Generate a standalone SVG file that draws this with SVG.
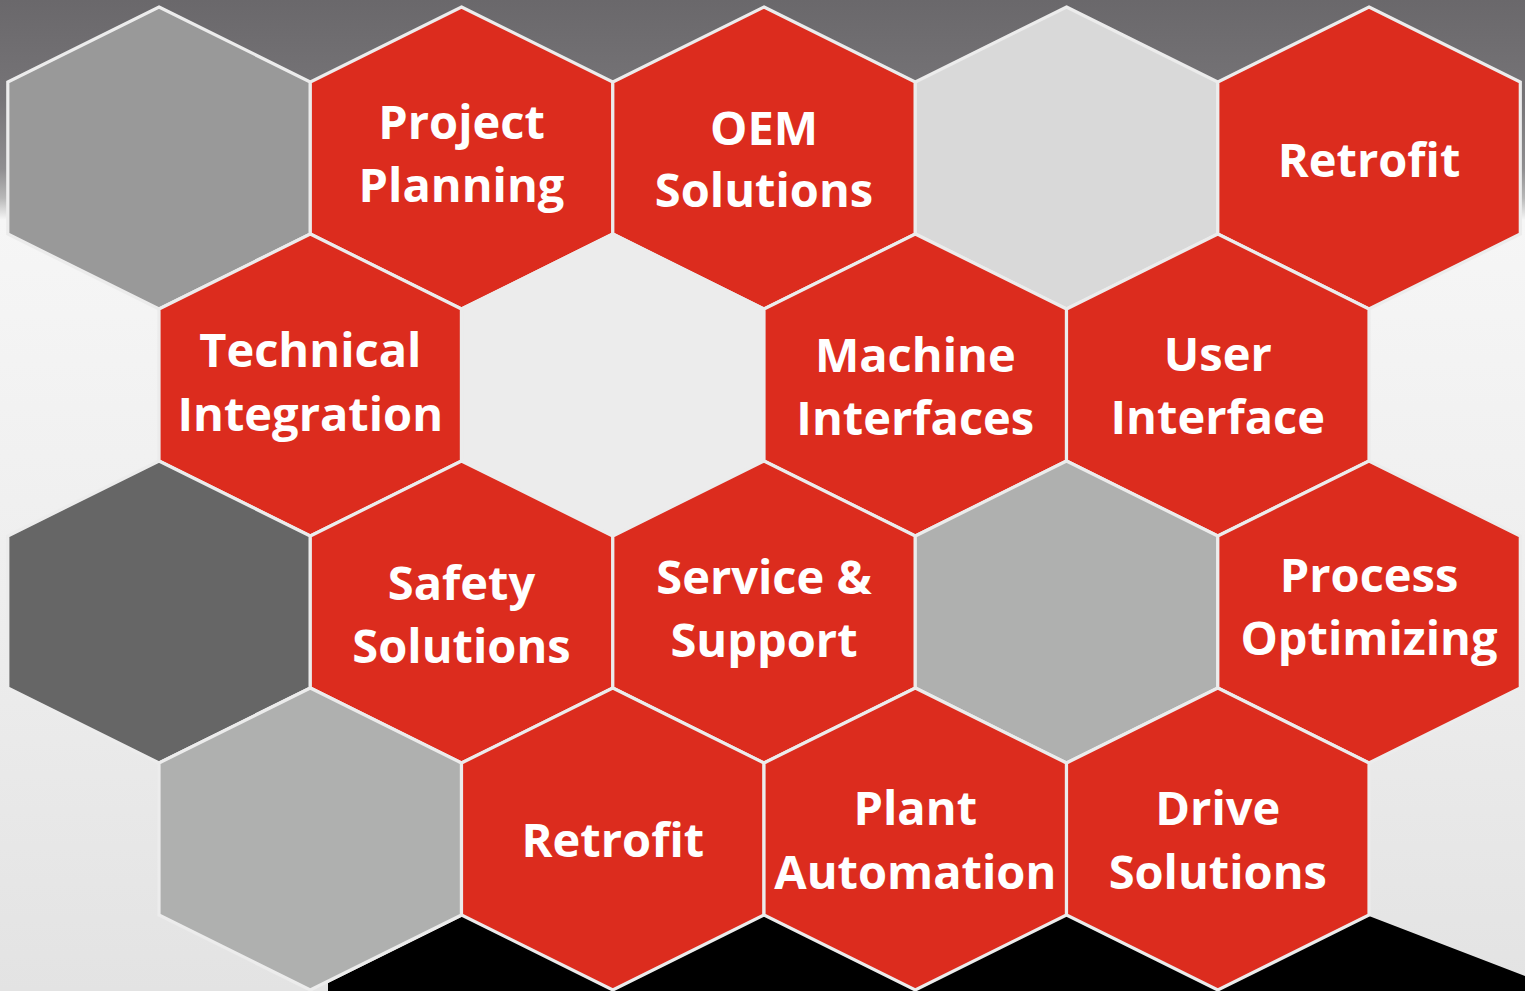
<svg xmlns="http://www.w3.org/2000/svg" width="1525" height="991" viewBox="0 0 1525 991">
<defs>
<linearGradient id="bg" x1="0" y1="0" x2="0" y2="1">
<stop offset="0" stop-color="#6a686b"/>
<stop offset="0.1" stop-color="#767477"/>
<stop offset="0.17" stop-color="#8f8e90"/>
<stop offset="0.2" stop-color="#b8b8b8"/>
<stop offset="0.222" stop-color="#f6f6f6"/>
<stop offset="0.6" stop-color="#eeeeee"/>
<stop offset="1" stop-color="#e3e3e3"/>
</linearGradient>
<style>
.hex{stroke:#ececec;stroke-width:3.2;stroke-linejoin:miter}
.red{fill:#dc2c1e}
.g1{fill:#999999}
.g2{fill:#d9d9d9}
.g3{fill:#ececec}
.g4{fill:#666666}
.g5{fill:#afb0af}
text{font-family:"Open Sans","Noto Sans","Liberation Sans",sans-serif;font-weight:bold;font-size:47px;fill:#ffffff;text-anchor:middle}
</style>
</defs>
<rect x="0" y="0" width="1525" height="991" fill="url(#bg)"/>
<polygon points="328,991 328,983 461.5,917 461.5,900 1369,900 1369,916 1525,976 1525,991" fill="#000000"/>
<g id="connectors"/>
<g id="hex-r0c0"><polygon class="hex g1" points="159,7 310.3,82 310.3,234 159,309 7.8,234 7.8,82"/></g>
<g id="hex-project-planning"><polygon class="hex red" points="461.5,7 612.8,82 612.8,234 461.5,309 310.3,234 310.3,82"/><text x="461.5" y="139">Project</text><text x="461.5" y="202">Planning</text></g>
<g id="hex-oem-solutions"><polygon class="hex red" points="764,7 915.3,82 915.3,234 764,309 612.8,234 612.8,82"/><text x="764" y="145">OEM</text><text x="764" y="207">Solutions</text></g>
<g id="hex-r0c3"><polygon class="hex g2" points="1066.5,7 1217.8,82 1217.8,234 1066.5,309 915.3,234 915.3,82"/></g>
<g id="hex-retrofit-top"><polygon class="hex red" points="1369,7 1520.3,82 1520.3,234 1369,309 1217.8,234 1217.8,82"/><text x="1369" y="177">Retrofit</text></g>
<g id="hex-technical-integration"><polygon class="hex red" points="310.3,234 461.5,309 461.5,461 310.3,536 159,461 159,309"/><text x="310.3" y="367">Technical</text><text x="310.3" y="431">Integration</text></g>
<g id="hex-r1c1"><polygon class="hex g3" points="612.8,234 764,309 764,461 612.8,536 461.5,461 461.5,309"/></g>
<g id="hex-machine-interfaces"><polygon class="hex red" points="915.3,234 1066.5,309 1066.5,461 915.3,536 764,461 764,309"/><text x="915.3" y="372">Machine</text><text x="915.3" y="435">Interfaces</text></g>
<g id="hex-user-interface"><polygon class="hex red" points="1217.8,234 1369,309 1369,461 1217.8,536 1066.5,461 1066.5,309"/><text x="1217.8" y="371">User</text><text x="1217.8" y="434">Interface</text></g>
<g id="hex-r2c0"><polygon class="hex g4" points="159,461 310.3,536 310.3,688 159,763 7.8,688 7.8,536"/></g>
<g id="hex-safety-solutions"><polygon class="hex red" points="461.5,461 612.8,536 612.8,688 461.5,763 310.3,688 310.3,536"/><text x="461.5" y="600">Safety</text><text x="461.5" y="663">Solutions</text></g>
<g id="hex-service-support"><polygon class="hex red" points="764,461 915.3,536 915.3,688 764,763 612.8,688 612.8,536"/><text x="764" y="594">Service &amp;</text><text x="764" y="657">Support</text></g>
<g id="hex-r2c3"><polygon class="hex g5" points="1066.5,461 1217.8,536 1217.8,688 1066.5,763 915.3,688 915.3,536"/></g>
<g id="hex-process-optimizing"><polygon class="hex red" points="1369,461 1520.3,536 1520.3,688 1369,763 1217.8,688 1217.8,536"/><text x="1369" y="592">Process</text><text x="1369" y="655">Optimizing</text></g>
<g id="hex-r3c0"><polygon class="hex g5" points="310.3,688 461.5,763 461.5,915 310.3,990 159,915 159,763"/></g>
<g id="hex-retrofit-bottom"><polygon class="hex red" points="612.8,688 764,763 764,915 612.8,990 461.5,915 461.5,763"/><text x="612.8" y="857">Retrofit</text></g>
<g id="hex-plant-automation"><polygon class="hex red" points="915.3,688 1066.5,763 1066.5,915 915.3,990 764,915 764,763"/><text x="915.3" y="825">Plant</text><text x="915.3" y="889">Automation</text></g>
<g id="hex-drive-solutions"><polygon class="hex red" points="1217.8,688 1369,763 1369,915 1217.8,990 1066.5,915 1066.5,763"/><text x="1217.8" y="825">Drive</text><text x="1217.8" y="889">Solutions</text></g>
</svg>
